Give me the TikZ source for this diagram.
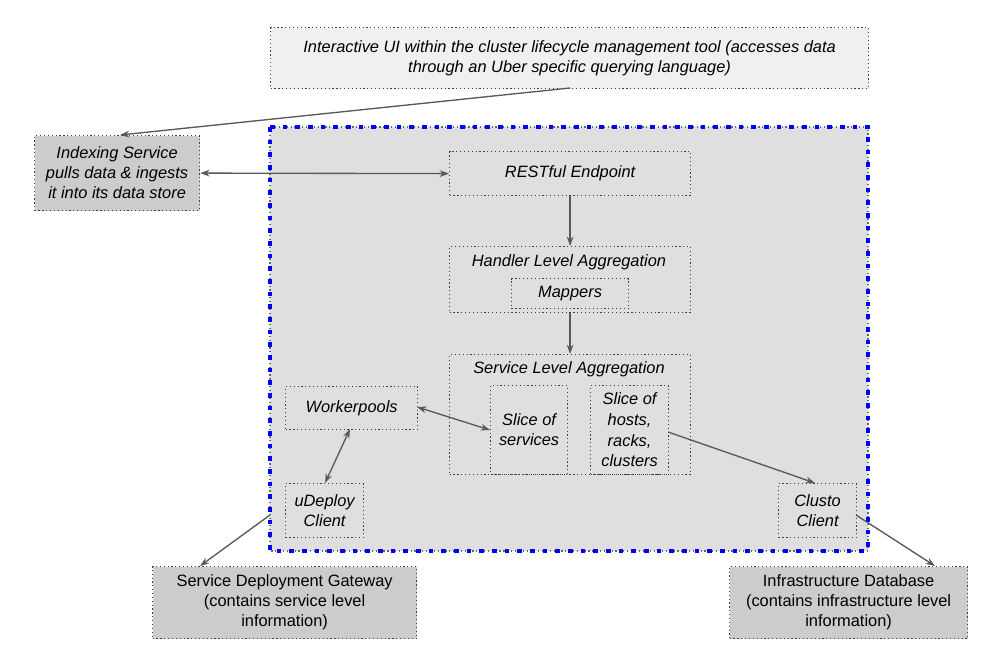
\documentclass[tikz,border=0pt]{standalone}
\usepackage{fontspec}
\setmainfont{Liberation Sans}
\usetikzlibrary{arrows.meta}
\begin{document}
\begin{tikzpicture}[x=0.75pt,y=-0.75pt,
 bx/.style={draw=black!75,dotted,line width=0.9pt,inner sep=0pt,align=center,font=\itshape\fontsize{12.3}{15}\selectfont},
 lb/.style={inner sep=0pt,align=center,font=\itshape\fontsize{12.3}{15}\selectfont},
 ar/.style={draw=black!65,line width=1pt,-{Stealth[length=7pt,width=5pt]}},
 br/.style={draw=black!65,line width=1pt,{Stealth[length=7pt,width=5pt]}-{Stealth[length=7pt,width=5pt]}}]
\useasboundingbox (0,0) rectangle (999,657);
\fill[white] (0,0) rectangle (999,657);
\node[fill=gray!25,minimum width=598*0.75pt,minimum height=424*0.75pt,anchor=north west,inner sep=0pt] (reg) at (270,127) {};
\draw[black!60,dotted,line width=0.9pt] (270,127) rectangle (868,551);
\draw[blue,line width=3pt,dash pattern=on 3.5pt off 6pt] (270,127) rectangle (868,551);
\node[bx,fill=gray!12,minimum width=598*0.75pt,minimum height=61*0.75pt,anchor=north west] (ui) at (270,27) {Interactive UI within the cluster lifecycle management tool (accesses data\\through an Uber specific querying language)};
\node[bx,fill=gray!40,minimum width=165*0.75pt,minimum height=75*0.75pt,anchor=north west] (idx) at (34,135) {Indexing Service\\pulls data \& ingests\\it into its data store};
\node[bx,minimum width=241*0.75pt,minimum height=44*0.75pt,anchor=north west] (rest) at (449,151) {RESTful Endpoint};
\node[bx,minimum width=241*0.75pt,minimum height=66*0.75pt,anchor=north west] (hand) at (449,246) {};
\node[lb] (handl) at (569,262) {Handler Level Aggregation};
\node[bx,minimum width=117*0.75pt,minimum height=30*0.75pt,anchor=north west] (map) at (511,278) {Mappers};
\node[bx,minimum width=241*0.75pt,minimum height=120*0.75pt,anchor=north west] (svc) at (449,354) {};
\node[lb] (svcl) at (569,369) {Service Level Aggregation};
\node[bx,minimum width=77*0.75pt,minimum height=89*0.75pt,anchor=north west] (ss) at (490,385) {Slice of\\services};
\node[bx,minimum width=78*0.75pt,minimum height=89*0.75pt,anchor=north west,font=\itshape\fontsize{12.3}{15.5}\selectfont] (sh) at (590,385) {Slice of\\hosts,\\racks,\\clusters};
\node[bx,minimum width=132*0.75pt,minimum height=43*0.75pt,anchor=north west] (wp) at (285,386) {Workerpools};
\node[bx,minimum width=78*0.75pt,minimum height=54*0.75pt,anchor=north west] (ud) at (285,483) {uDeploy\\Client};
\node[bx,minimum width=78*0.75pt,minimum height=54*0.75pt,anchor=north west] (cl) at (778,483) {Clusto\\Client};
\node[bx,fill=gray!40,font=\fontsize{12.3}{15}\selectfont,minimum width=264*0.75pt,minimum height=72*0.75pt,anchor=north west] (sdg) at (152,566) {Service Deployment Gateway\\(contains service level\\information)};
\node[bx,fill=gray!40,font=\fontsize{12.3}{15}\selectfont,minimum width=238*0.75pt,minimum height=72*0.75pt,anchor=north west] (idb) at (729,566) {Infrastructure Database\\(contains infrastructure level\\information)};
\coordinate (a1) at (570,88); \coordinate (a2) at (120,135);
\draw[ar] (a1) -- (a2);
\draw[br] (idx.east) -- (rest.west);
\draw[ar] (rest.south) -- (hand.north);
\draw[ar] (hand.south) -- (svc.north);
\coordinate (w1) at (417,407); \coordinate (s1) at (490,430);
\draw[br] (w1) -- (s1);
\coordinate (w2) at (350,429); \coordinate (u1) at (325,483);
\draw[br] (w2) -- (u1);
\coordinate (u2) at (270,515); \coordinate (g1) at (200,566);
\draw[ar] (u2) -- (g1);
\coordinate (h1) at (668,432); \coordinate (c1) at (815,483);
\draw[ar] (h1) -- (c1);
\coordinate (c2) at (856,515); \coordinate (d1) at (935,566);
\draw[ar] (c2) -- (d1);
\end{tikzpicture}
\end{document}
